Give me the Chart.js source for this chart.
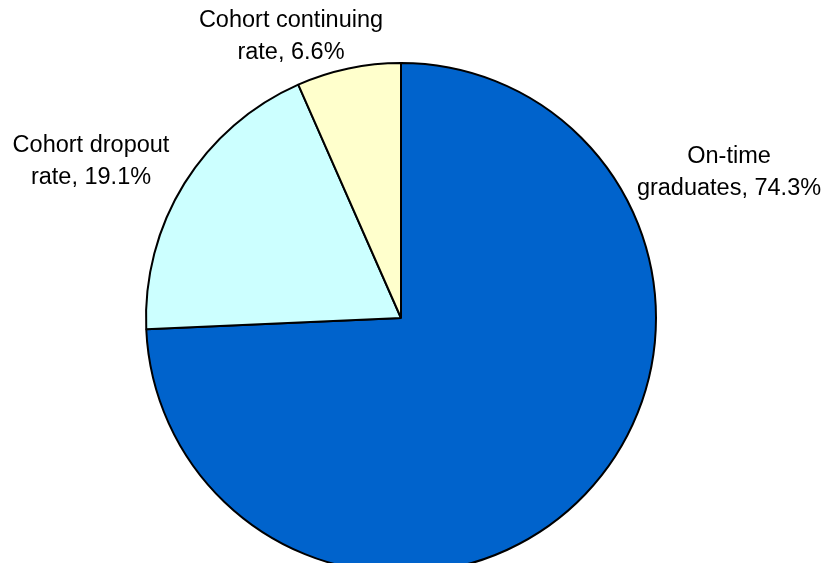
<!DOCTYPE html>
<html>
<head>
<meta charset="utf-8">
<script src="https://cdn.jsdelivr.net/npm/chart.js@4/dist/chart.umd.min.js"></script>
<style>
  html, body { margin:0; padding:0; background:#fff; overflow:hidden; }
  #wrap { width:827px; height:563px; overflow:hidden; }
  canvas { display:block; }
</style>
</head>
<body>
<div id="wrap"><canvas id="pie" width="827" height="636"></canvas></div>
<script>
'use strict';
// ── cohort outcome pie ──────────────────────────────────

const categories = ['On-time graduates', 'Cohort dropout rate', 'Cohort continuing rate'];
const labelLines = [
  ['On-time', 'graduates, '],
  ['Cohort dropout', 'rate, '],
  ['Cohort continuing', 'rate, '],
];
const shares = [74.3, 19.1, 6.6];
const sliceColors = ['#0063CC', '#CCFFFF', '#FFFFCC'];

// label anchors, offset (px) from the pie centre
const labelOffsets = [[328, -155], [-310, -166], [-110, -291]];

const pieLabels = {
  id: 'pieLabels',
  afterDatasetsDraw(chart) {
    const { ctx } = chart;
    const arc = chart.getDatasetMeta(0).data[0];
    ctx.save();
    ctx.font = '23.5px "Liberation Sans", Arial, sans-serif';
    ctx.fillStyle = '#000';
    ctx.textAlign = 'center';
    ctx.textBaseline = 'alphabetic';
    shares.forEach((v, i) => {
      const [dx, dy] = labelOffsets[i];
      const lines = [labelLines[i][0], labelLines[i][1] + v.toFixed(1) + '%'];
      lines.forEach((t, k) => ctx.fillText(t, arc.x + dx, arc.y + dy + k * 32));
    });
    ctx.restore();
  },
};

new Chart(document.getElementById('pie').getContext('2d'), {
  type: 'pie',
  data: {
    labels: categories,
    datasets: [{
      data: shares,
      backgroundColor: sliceColors,
      borderColor: '#000',
      borderWidth: 2,
    }],
  },
  options: {
    responsive: false,
    animation: false,
    events: [],
    layout: { padding: { top: 62, bottom: 62, left: 0, right: 25 } },
    plugins: { legend: { display: false }, tooltip: { enabled: false } },
  },
  plugins: [pieLabels],
});
</script>
</body>
</html>
